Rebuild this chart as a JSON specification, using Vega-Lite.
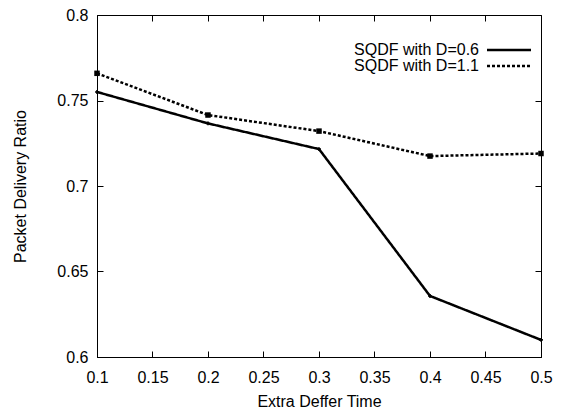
{
  "$schema": "https://vega.github.io/schema/vega-lite/v6.json",
  "width": 444,
  "height": 342,
  "autosize": {"type": "none"},
  "padding": {"left": 97, "top": 15, "right": 22, "bottom": 53},
  "background": "white",
  "config": {
    "font": "Liberation Sans",
    "view": {"stroke": "black", "strokeWidth": 1},
    "axis": {"grid": false, "domainColor": "black", "tickColor": "black", "labelColor": "black", "titleColor": "black", "labelFont": "Liberation Sans", "titleFont": "Liberation Sans", "labelFontSize": 16, "titleFontSize": 16, "titleFontWeight": "normal", "tickSize": 6, "domainWidth": 1, "tickWidth": 1, "labelFlush": false}
  },
  "data": {
    "values": [
      {"series": "SQDF with D=0.6", "t": 0.1, "pdr": 0.755},
      {"series": "SQDF with D=0.6", "t": 0.2, "pdr": 0.7366},
      {"series": "SQDF with D=0.6", "t": 0.3, "pdr": 0.7216},
      {"series": "SQDF with D=0.6", "t": 0.4, "pdr": 0.6357},
      {"series": "SQDF with D=0.6", "t": 0.5, "pdr": 0.610},
      {"series": "SQDF with D=1.1", "t": 0.1, "pdr": 0.7659},
      {"series": "SQDF with D=1.1", "t": 0.2, "pdr": 0.7415},
      {"series": "SQDF with D=1.1", "t": 0.3, "pdr": 0.7321},
      {"series": "SQDF with D=1.1", "t": 0.4, "pdr": 0.7175},
      {"series": "SQDF with D=1.1", "t": 0.5, "pdr": 0.719}
    ]
  },
  "layer": [
    {
      "mark": {"type": "line", "color": "black", "strokeWidth": 2.5},
      "encoding": {
        "x": {"field": "t", "type": "quantitative", "scale": {"domain": [0.1, 0.5], "nice": false, "zero": false},
          "axis": {"title": "Extra Deffer Time", "format": ".2~f", "values": [0.1, 0.15, 0.2, 0.25, 0.3, 0.35, 0.4, 0.45, 0.5], "ticks": false, "labelPadding": 12, "titlePadding": 8}},
        "y": {"field": "pdr", "type": "quantitative", "scale": {"domain": [0.6, 0.8], "nice": false, "zero": false},
          "axis": {"title": "Packet Delivery Ratio", "format": ".2~f", "values": [0.6, 0.65, 0.7, 0.75, 0.8], "ticks": false, "labelPadding": 9, "titlePadding": 28}},
        "strokeDash": {"field": "series", "type": "nominal",
          "scale": {"domain": ["SQDF with D=0.6", "SQDF with D=1.1"], "range": [[1, 0], [3, 2]]},
          "legend": {"title": null, "orient": "none", "legendX": 404, "legendY": 27, "labelFontSize": 16, "labelAlign": "right", "labelOffset": -38, "symbolType": "M-4,0H4", "symbolSize": 121, "symbolStrokeWidth": 2.5, "symbolStrokeColor": "black", "rowPadding": -2, "padding": 0, "labelColor": "black"}}
      }
    },
    {
      "transform": [{"filter": "datum.series == 'SQDF with D=0.6'"}],
      "mark": {"type": "point", "shape": "cross", "filled": true, "color": "black", "opacity": 1, "size": 15},
      "encoding": {
        "x": {"field": "t", "type": "quantitative", "axis": {"orient": "bottom", "offset": -6, "labels": false, "domain": false, "title": null, "values": [0.1, 0.15, 0.2, 0.25, 0.3, 0.35, 0.4, 0.45, 0.5]}},
        "y": {"field": "pdr", "type": "quantitative", "axis": {"orient": "left", "offset": -6, "labels": false, "domain": false, "title": null, "values": [0.6, 0.65, 0.7, 0.75, 0.8]}}
      }
    },
    {
      "transform": [{"filter": "datum.series == 'SQDF with D=1.1'"}],
      "mark": {"type": "point", "shape": "square", "filled": true, "color": "black", "opacity": 1, "size": 30},
      "encoding": {
        "x": {"field": "t", "type": "quantitative", "axis": {"orient": "top", "offset": -6, "labels": false, "domain": false, "title": null, "values": [0.1, 0.15, 0.2, 0.25, 0.3, 0.35, 0.4, 0.45, 0.5]}},
        "y": {"field": "pdr", "type": "quantitative", "axis": {"orient": "right", "offset": -6, "labels": false, "domain": false, "title": null, "values": [0.6, 0.65, 0.7, 0.75, 0.8]}}
      }
    }
  ],
  "resolve": {"axis": {"x": "independent", "y": "independent"}}
}
